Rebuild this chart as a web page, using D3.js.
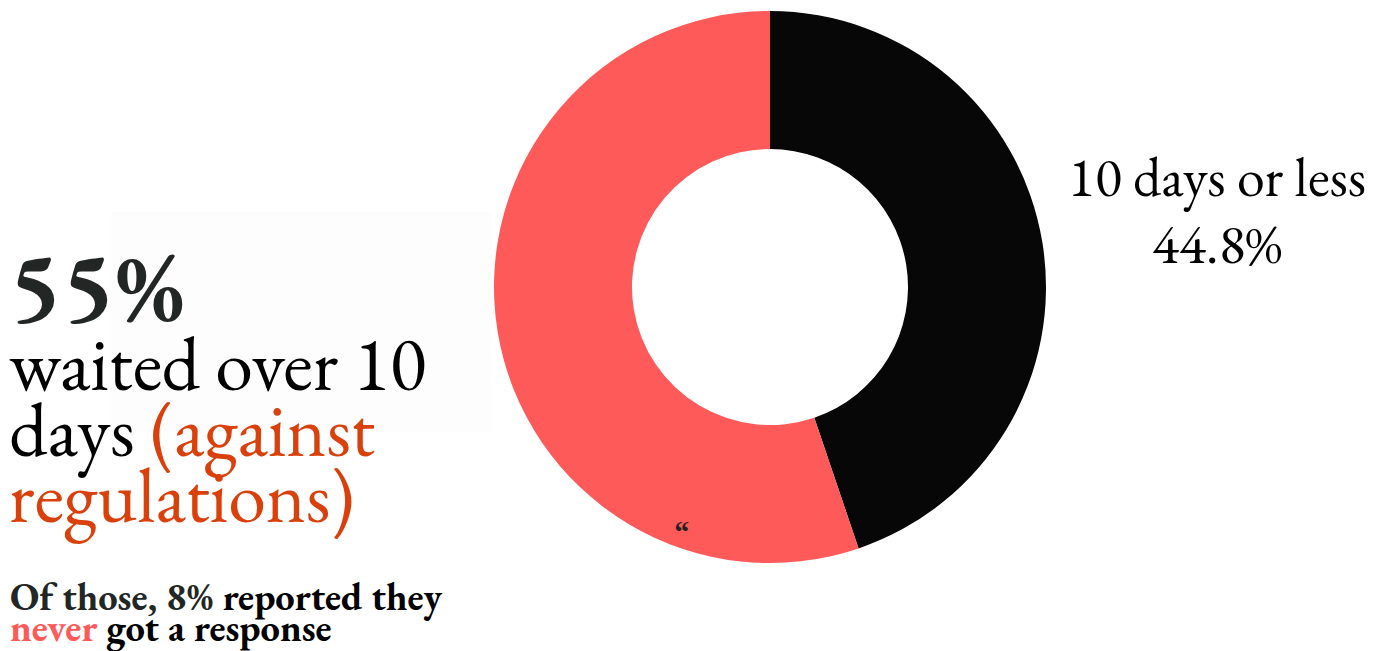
<!DOCTYPE html>
<html><head><meta charset="utf-8">
<script src="https://cdn.jsdelivr.net/npm/d3@7"></script>
<style>html,body{margin:0;padding:0;background:#fff;overflow:hidden}</style>
</head><body>
<svg id="c" width="1382" height="651"></svg>
<script>
const categories = ["10 days or less", "Over 10 days"];
const values = [44.8, 55.2];
const colors = ["#060706", "#FF5A5A"];

const svg = d3.select("#c");
const cx = 770, cy = 287, R = 276, r = 138;
const serif = "'EB Garamond','Liberation Serif','DejaVu Serif',serif";

// faint panel behind headline
svg.append("rect").attr("x",111).attr("y",212).attr("width",381).attr("height",220).attr("fill","#fdfdfd");

const pie = d3.pie().sort(null).value(d => d)(values);
const arc = d3.arc().innerRadius(r).outerRadius(R);
const g = svg.append("g").attr("transform",`translate(${cx},${cy})`);
g.selectAll("path").data(pie).join("path").attr("d",arc).attr("fill",(d,i)=>colors[i]);

g.append("text").attr("x",-95).attr("y",258).attr("font-family",serif).attr("font-weight","bold").attr("font-size",32)
  .attr("fill","#222").text("\u201C");

// right label
const lab = svg.append("text").attr("font-family",serif).attr("font-size",56).attr("fill","#000").attr("text-anchor","middle");
lab.append("tspan").attr("x",1217).attr("y",196).text(categories[0]);
lab.append("tspan").attr("x",1217).attr("y",263).text(values[0].toFixed(1)+"%");

// left headline
svg.append("text").attr("x",9).attr("y",320).attr("font-family",serif).attr("font-weight","bold")
  .attr("font-size",100).attr("fill","#222624").text(Math.round(values[1])+"%");
const t = svg.append("text").attr("font-family",serif).attr("font-size",76).attr("fill","#000");
t.append("tspan").attr("x",9).attr("y",390).text("waited over 10");
t.append("tspan").attr("x",9).attr("y",456).text("days ");
t.append("tspan").attr("fill","#D9400B").text("(against");
t.append("tspan").attr("x",9).attr("y",522).attr("fill","#D9400B").text("regulations)");

const b = svg.append("text").attr("font-family",serif).attr("font-weight","bold").attr("font-size",38.5).attr("fill","#000");
b.append("tspan").attr("x",10).attr("y",610).attr("fill","#222624").text("Of those, 8% ");
b.append("tspan").text("reported they");
b.append("tspan").attr("x",10).attr("y",641).attr("fill","#FF5A5A").text("never");
b.append("tspan").text(" got a response");
</script>
</body></html>
